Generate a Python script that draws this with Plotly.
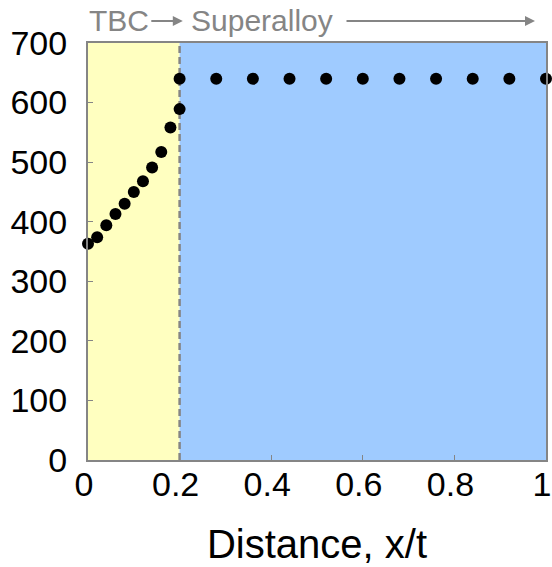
import plotly.graph_objects as go

# Temperature profile through a thermal barrier coating (TBC) and the superalloy substrate
tbc_x = [0.0, 0.02, 0.04, 0.06, 0.08, 0.10, 0.12, 0.14, 0.16, 0.18, 0.20]
tbc_temp = [363, 374, 394, 413, 430, 450, 468, 491, 517, 558, 589]

alloy_x = [0.20, 0.28, 0.36, 0.44, 0.52, 0.60, 0.68, 0.76, 0.84, 0.92, 1.00]
alloy_temp = [640, 640, 640, 640, 640, 640, 640, 640, 640, 640, 640]

interface_x = 0.2
x_ticks = [0, 0.2, 0.4, 0.6, 0.8, 1]
x_tick_text = ["0", "0.2", "0.4", "0.6", "0.8", "1"]
y_ticks = [0, 100, 200, 300, 400, 500, 600, 700]

FONT = "Liberation Sans, Arial, sans-serif"
GRAY = "#858585"

fig = go.Figure()

fig.add_trace(go.Scatter(
    x=tbc_x + alloy_x, y=tbc_temp + alloy_temp,
    mode="markers",
    marker=dict(color="black", size=12),
    cliponaxis=False,
    showlegend=False,
))

# Coating and substrate regions
fig.add_shape(type="rect", xref="x", yref="paper", x0=0, x1=interface_x, y0=0, y1=1,
              fillcolor="#FFFFC0", line_width=0, layer="below")
fig.add_shape(type="rect", xref="x", yref="paper", x0=interface_x, x1=1, y0=0, y1=1,
              fillcolor="#9FCBFF", line_width=0, layer="below")
fig.add_shape(type="line", xref="x", yref="paper", x0=interface_x, x1=interface_x, y0=0, y1=1,
              line=dict(color=GRAY, width=2.5, dash="7px,4px"), layer="below")

# Region labels above the plot
fig.add_annotation(text="TBC", xref="paper", yref="paper", x=-0.002, y=1.055,
                   xanchor="left", yanchor="middle", showarrow=False,
                   font=dict(family=FONT, size=30, color=GRAY))
fig.add_annotation(text="", xref="paper", yref="paper", x=0.207, y=1.053,
                   ax=-33, ay=0, showarrow=True, arrowhead=2, arrowsize=1,
                   arrowwidth=2, arrowcolor=GRAY)
fig.add_annotation(text="Superalloy", xref="paper", yref="paper", x=0.2205, y=1.055,
                   xanchor="left", yanchor="middle", showarrow=False,
                   font=dict(family=FONT, size=30, color=GRAY))
fig.add_annotation(text="", xref="paper", yref="paper", x=0.976, y=1.053,
                   ax=-190, ay=0, showarrow=True, arrowhead=2, arrowsize=1,
                   arrowwidth=2, arrowcolor=GRAY)

fig.update_layout(
    width=552, height=567,
    margin=dict(l=88, r=6, t=43, b=107),
    paper_bgcolor="white", plot_bgcolor="white",
    font=dict(family=FONT, color="black"),
    xaxis=dict(
        range=[0, 1], tickvals=x_ticks, ticktext=x_tick_text,
        showline=True, mirror=True, linecolor=GRAY, linewidth=2,
        ticks="inside", ticklen=5, tickcolor=GRAY, tickwidth=1,
        showgrid=False, zeroline=False, ticklabeloverflow="allow",
        ticklabelstandoff=-7, ticklabelshift=-4,
        automargin=False,
        tickfont=dict(size=34, color="black"),
        title=dict(text="Distance, x/t", font=dict(size=40, color="black"), standoff=28),
    ),
    yaxis=dict(
        range=[0, 700], tickvals=y_ticks,
        showline=True, mirror=True, linecolor=GRAY, linewidth=2,
        ticks="inside", ticklen=5, tickcolor=GRAY, tickwidth=1,
        showgrid=False, zeroline=False, ticklabelstandoff=12,
        automargin=False,
        tickfont=dict(size=34, color="black"),
    ),
)

fig.write_html("out.html")
